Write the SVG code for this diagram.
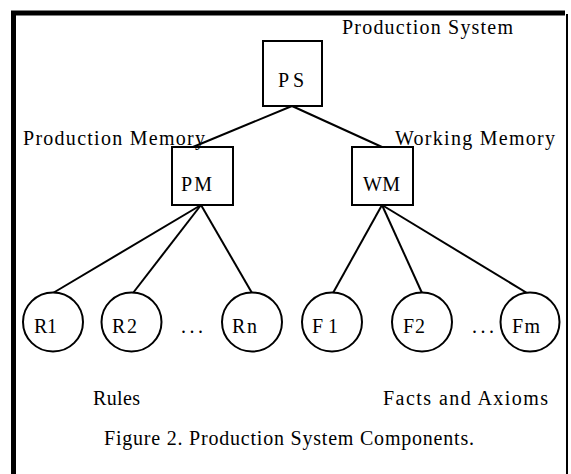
<svg xmlns="http://www.w3.org/2000/svg" width="571" height="474" viewBox="0 0 571 474">
<style>
text{font-family:"Liberation Serif","Times New Roman",serif;font-size:20px;fill:#000;}
.box{fill:#fff;stroke:#000;stroke-width:2;}
.node{fill:#fff;stroke:#000;stroke-width:2;}
.edge{stroke:#000;stroke-width:2;fill:none;}
</style>
<rect width="571" height="474" fill="#fff"/>
<g id="frame" fill="none" stroke="#000">
<path d="M13.5,474 V13 H565" stroke-width="5"/>
<path d="M567,14 V474" stroke-width="2"/>
</g>
<g id="connectors">
<line class="edge" x1="292" y1="106" x2="193" y2="147"/>
<line class="edge" x1="292" y1="106" x2="382" y2="147"/>
<line class="edge" x1="201" y1="205" x2="53" y2="293"/>
<line class="edge" x1="201" y1="205" x2="133" y2="293"/>
<line class="edge" x1="201" y1="205" x2="252" y2="293"/>
<line class="edge" x1="382" y1="205" x2="333" y2="293"/>
<line class="edge" x1="382" y1="205" x2="422" y2="293"/>
<line class="edge" x1="382" y1="205" x2="527" y2="293"/>
</g>
<g id="PS"><rect class="box" x="263" y="41" width="59" height="65"/><text x="278" y="87" textLength="26">PS</text></g>
<g id="PM"><rect class="box" x="172" y="147" width="61" height="58"/><text x="181" y="191" textLength="31">PM</text></g>
<g id="WM"><rect class="box" x="352" y="147" width="61" height="58"/><text x="363" y="191" textLength="37">WM</text></g>
<g id="R1"><ellipse class="node" cx="53" cy="322" rx="30" ry="29.5"/><text x="34" y="333" textLength="23">R1</text></g>
<g id="R2"><ellipse class="node" cx="131.5" cy="322" rx="30" ry="29.5"/><text x="112" y="333" textLength="25">R2</text></g>
<g id="Rn"><ellipse class="node" cx="252" cy="322" rx="30" ry="29.5"/><text x="232" y="333" textLength="25">Rn</text></g>
<g id="F1"><ellipse class="node" cx="332" cy="322" rx="30" ry="29.5"/><text x="312" y="333" textLength="26">F1</text></g>
<g id="F2"><ellipse class="node" cx="422" cy="322" rx="30" ry="29.5"/><text x="403" y="333" textLength="22">F2</text></g>
<g id="Fm"><ellipse class="node" cx="530" cy="322" rx="29.5" ry="29.5"/><text x="512" y="333" textLength="28">Fm</text></g>
<g id="labels">
<text x="342" y="34" textLength="171">Production System</text>
<text x="23" y="145" textLength="182">Production Memory</text>
<text x="395" y="145" textLength="160">Working Memory</text>
<text x="181" y="333" textLength="22">...</text>
<text x="472" y="333" textLength="22">...</text>
<text x="93" y="405" textLength="47">Rules</text>
<text x="383" y="405" textLength="165">Facts and Axioms</text>
<text x="104" y="445" textLength="370">Figure 2. Production System Components.</text>
</g>
</svg>
